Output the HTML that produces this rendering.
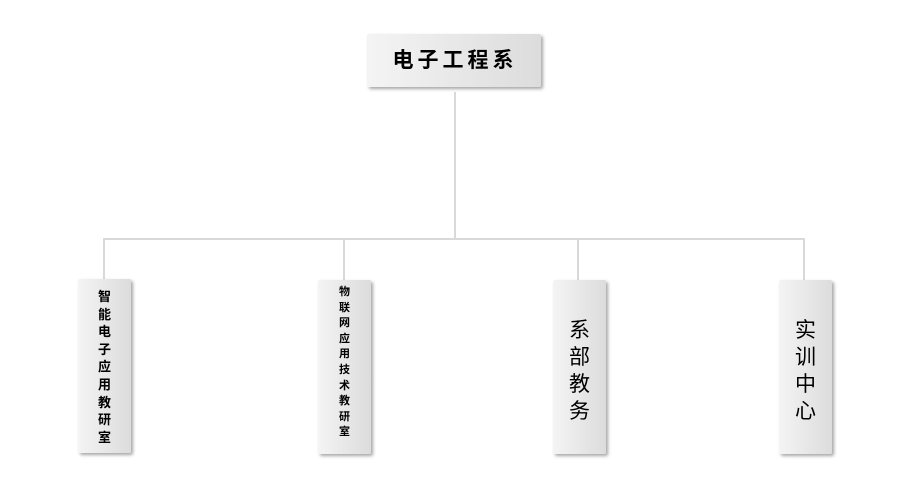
<!DOCTYPE html>
<html><head><meta charset="utf-8"><style>
body{margin:0;width:923px;height:502px;background:#fff;position:relative;overflow:hidden;font-family:"Liberation Sans","Noto Sans CJK SC",sans-serif}
.b{position:absolute;background:linear-gradient(to right,#f4f4f4,#dcdcdc);box-shadow:2px 2px 3px rgba(0,0,0,.35);border-radius:2px;color:#000;text-align:center}
.l{position:absolute;background:#d9d9d9}
.v{display:flex;flex-direction:column;align-items:center}
</style></head><body>
<div class="l" style="left:454px;top:92px;width:2px;height:148px"></div>
<div class="l" style="left:104px;top:238px;width:701px;height:2px"></div>
<div class="l" style="left:103px;top:238px;width:2px;height:42px"></div>
<div class="l" style="left:343px;top:238px;width:2px;height:42px"></div>
<div class="l" style="left:577px;top:238px;width:2px;height:42px"></div>
<div class="l" style="left:803px;top:238px;width:2px;height:42px"></div>
<div class="b" style="left:367px;top:34px;width:174px;height:53px;line-height:53px;font-size:21px;font-weight:bold;letter-spacing:4px;text-indent:2px">电子工程系</div>
<div class="b v" style="left:78px;top:279px;width:53px;height:174px;font-size:13px;font-weight:bold;line-height:17.6px;padding-top:9px;box-sizing:border-box"><div>智</div><div>能</div><div>电</div><div>子</div><div>应</div><div>用</div><div>教</div><div>研</div><div>室</div></div>
<div class="b v" style="left:318px;top:280px;width:53px;height:174px;font-size:11px;font-weight:bold;line-height:15.6px;padding-top:5px;box-sizing:border-box"><div>物</div><div>联</div><div>网</div><div>应</div><div>用</div><div>技</div><div>术</div><div>教</div><div>研</div><div>室</div></div>
<div class="b v" style="left:553px;top:280px;width:53px;height:174px;font-size:21px;line-height:27px;padding-top:37px;box-sizing:border-box"><div>系</div><div>部</div><div>教</div><div>务</div></div>
<div class="b v" style="left:779px;top:280px;width:53px;height:174px;font-size:21px;line-height:27px;padding-top:37px;box-sizing:border-box"><div>实</div><div>训</div><div>中</div><div>心</div></div>
</body></html>
